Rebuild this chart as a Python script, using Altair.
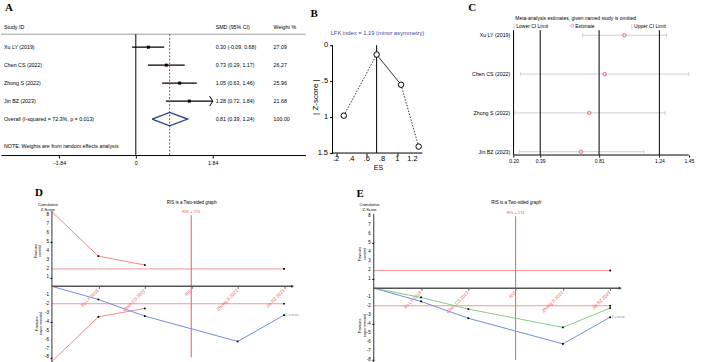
import altair as alt
import pandas as pd

# ---------------- Panel A: forest plot ----------------
studies = ["Xu LY (2019)", "Chen CS (2022)", "Zhong S (2022)", "Jin BZ (2023)"]
smd = [0.30, 0.73, 1.05, 1.28]
smd_lo = [-0.09, 0.29, 0.63, 0.72]
smd_hi = [0.68, 1.17, 1.46, 1.84]
weights = [27.09, 26.27, 25.96, 21.68]
overall = [0.81, 0.39, 1.24]
overall_label = "Overall  (I-squared = 72.3%, p = 0.013)"
overall_weight = 100.00
note_label = "NOTE: Weights are from random effects analysis"
a_ticks = [-1.84, 0, 1.84]

# ---------------- Panel B: Doi plot ----------------
doi_es = [0.30, 0.73, 1.05, 1.28]
doi_z = [0.98, 0.13, 0.55, 1.41]
lfk_label = "LFK index = 1.19 (minor asymmetry)"
b_xticks = [0.2, 0.4, 0.6, 0.8, 1.0, 1.2]
b_xtick_labels = [".2", ".4", ".6", ".8", "1", "1.2"]
b_yticks = [0, 0.5, 1.0, 1.5]
b_ytick_labels = ["0", ".5", "1", "1.5"]

# ---------------- Panel C: leave-one-out ----------------
loo_est = [0.99, 0.85, 0.74, 0.68]
loo_lo = [0.69, 0.25, 0.21, 0.24]
loo_hi = [1.29, 1.45, 1.28, 1.13]
c_ticks = [0.20, 0.39, 0.81, 1.24, 1.45]

# ---------------- Panels D/E: trial sequential analysis ----------------
tsa_ticks = [1, 2, 3, 4, 5]
tsa_tick_labels = ["Xu LY 2019", "Chen CS 2022", "RIS", "Zhong S 2022", "Jin BZ 2023"]
curve_pos = [0, 1, 2, 4, 5]
z_curve = [0, -1.48, -3.35, -6.20, -3.24]
adj_curve = [0, -1.04, -2.33, -4.37, -2.22]
bound_pos = [0, 1, 2]
upper_bound = [8.4, 3.4, 2.4]
lower_bound = [-8.45, -3.43, -2.49]
ris_pos = 3
ris_label = "RIS = 274"
conv_z = 1.96
tsa_yticks = [-8, -7, -6, -5, -4, -3, -2, -1, 1, 2, 3, 4, 5, 6, 7, 8]

FONT = "Liberation Sans"
SERIF = "Liberation Serif"
one = pd.DataFrame({"k": [0]})


def label(text, x, y, size=5.3, align="left", color="black", angle=0,
          bold=False, font=FONT, baseline="middle", lh=None):
    kw = dict(text=text, align=align, baseline=baseline, fontSize=size,
              color=color, font=font, lineBreak="\n")
    if angle:
        kw["angle"] = angle
    if bold:
        kw["fontWeight"] = "bold"
    if lh:
        kw["lineHeight"] = lh
    return alt.Chart(one).mark_text(**kw).encode(x=alt.value(x), y=alt.value(y))


def hrule(x0, x1, y, color="black", w=1.0, dash=None):
    kw = dict(color=color, strokeWidth=w)
    if dash:
        kw["strokeDash"] = dash
    return alt.Chart(one).mark_rule(**kw).encode(
        x=alt.value(x0), x2=alt.value(x1), y=alt.value(y))


def vrule(x, y0, y1, color="black", w=1.0):
    return alt.Chart(one).mark_rule(color=color, strokeWidth=w).encode(
        x=alt.value(x), y=alt.value(y0), y2=alt.value(y1))


def Q(field, scale, shown=False):
    # shown=True: the channel has a visible axis defined in another layer -> leave it implicit
    if shown:
        return alt.X(field, type="quantitative", scale=scale)
    return alt.X(field, type="quantitative", scale=scale, axis=None)


def QY(field, scale, shown=False):
    if shown:
        return alt.Y(field, type="quantitative", scale=scale)
    return alt.Y(field, type="quantitative", scale=scale, axis=None)


AX = dict(title=None, grid=False, labelOverlap=False, labelFlush=False, labelColor="black",
          tickColor="black")

HT = 170   # top row height
HB = 192   # bottom row height

# ======================= Panel A =======================
WA = 305
xA = alt.Scale(domain=[-3.226, 4.062], nice=False, zero=False)
yA = alt.Scale(domain=[-1.611, 7.833], reverse=True, nice=False, zero=False)

dfA = pd.DataFrame({"study": studies, "smd": smd, "lo": smd_lo, "hi": smd_hi,
                    "w": weights, "row": [1, 2, 3, 4]})
txtA = pd.DataFrame({
    "label": studies + [overall_label],
    "ci": [f"{m:.2f} ({l:.2f}, {h:.2f})" for m, l, h in zip(smd, smd_lo, smd_hi)]
          + [f"{overall[0]:.2f} ({overall[1]:.2f}, {overall[2]:.2f})"],
    "wt": [f"{w:.2f}" for w in weights] + [f"{overall_weight:.2f}"],
    "row": [1, 2, 3, 4, 5],
})
arrowA = dfA[dfA["hi"] >= max(a_ticks)]
diam = pd.DataFrame({
    "x": [overall[1], overall[0], overall[2], overall[0], overall[1]],
    "row": [5, 4.63, 5, 5.37, 5],
    "o": [0, 1, 2, 3, 4],
})

ci_rules = alt.Chart(dfA).mark_rule(color="black", strokeWidth=1.2).encode(
    x=alt.X("lo:Q", scale=xA, axis=alt.Axis(
        values=a_ticks, offset=-15, domainColor="black", domainWidth=1,
        tickSize=3, labelFontSize=5.3, labelPadding=2,
        labelExpr="datum.value == 0 ? '0' : format(datum.value, '.2f')", **AX)),
    x2="hi:Q",
    y=QY("row", yA),
)
squares = alt.Chart(dfA).mark_square(size=9, color="black", opacity=1).encode(
    x=Q("smd", xA, True), y=QY("row", yA))
arrows = alt.Chart(arrowA).mark_point(
    shape="M -0.6 -1 L 0 0 L -0.6 1", filled=False, size=100,
    color="black", strokeWidth=1, opacity=1).encode(x=Q("hi", xA, True), y=QY("row", yA))
zero_line = alt.Chart(pd.DataFrame({"x": [0]})).mark_rule(color="black", strokeWidth=1).encode(
    x=Q("x", xA, True), y=alt.value(34), y2=alt.value(155))
ov_line = alt.Chart(pd.DataFrame({"x": [overall[0]]})).mark_rule(
    color="#c83c3c", strokeWidth=1, strokeDash=[2, 1.5]).encode(
    x=Q("x", xA, True), y=alt.value(34), y2=alt.value(155))
diamond = alt.Chart(diam).mark_line(color="#2a3d8f", strokeWidth=1.3).encode(
    x=Q("x", xA, True), y=QY("row", yA), order="o:Q")
study_txt = alt.Chart(txtA).mark_text(align="left", baseline="middle", fontSize=5.3, font=FONT).encode(
    x=alt.value(3), y=QY("row", yA), text="label:N")
ci_txt = alt.Chart(txtA).mark_text(align="left", baseline="middle", fontSize=5.3, font=FONT).encode(
    x=alt.value(215), y=QY("row", yA), text="ci:N")
wt_txt = alt.Chart(txtA).mark_text(align="left", baseline="middle", fontSize=5.3, font=FONT).encode(
    x=alt.value(273), y=QY("row", yA), text="wt:N")

panelA = alt.layer(
    hrule(0, WA, 34, color="#9a9a9a", w=1),
    ci_rules, zero_line, ov_line, squares, arrows, diamond,
    study_txt, ci_txt, wt_txt,
    label("Study ID", 3, 27), label("SMD (95% CI)", 215, 27), label("Weight %", 273, 27),
    label(note_label, 3, 146),
    label("A", 4, 8, size=11, bold=True, font=SERIF),
).properties(width=WA, height=HT)

# ======================= Panel B =======================
WB = 155
xB = alt.Scale(domain=[-0.2, 1.826], nice=False, zero=False)
yB = alt.Scale(domain=[-0.625, 1.736], reverse=True, nice=False, zero=False)
dfB = pd.DataFrame({"es": doi_es, "z": doi_z})
dotted = pd.DataFrame({"es": doi_es, "z": doi_z, "seg": ["a", "a", "b", "b"]})
solid = dfB.iloc[1:3]
zmin_es = doi_es[doi_z.index(min(doi_z))]
vline = pd.DataFrame({"es": [zmin_es], "z0": [b_yticks[0]], "z1": [b_yticks[-1]]})
bxt = pd.DataFrame({"v": b_xticks, "t": b_xtick_labels})
byt = pd.DataFrame({"v": b_yticks, "t": b_ytick_labels})

ptsB = alt.Chart(dfB).mark_point(shape="circle", filled=True, fill="white", stroke="black",
                                 strokeWidth=1, size=30, opacity=1).encode(
    x=alt.X("es:Q", scale=xB, axis=alt.Axis(
        values=b_xticks, offset=-17, domain=False, tickSize=3, labels=False, **AX)),
    y=alt.Y("z:Q", scale=yB, axis=alt.Axis(
        values=b_yticks, offset=-27, domain=False, tickSize=3, labels=False, **AX)),
)
dotB = alt.Chart(dotted).mark_line(color="black", strokeWidth=0.8, strokeDash=[1.5, 1.5]).encode(
    x=Q("es", xB, True), y=QY("z", yB, True), detail="seg:N")
solB = alt.Chart(solid).mark_line(color="black", strokeWidth=0.8).encode(
    x=Q("es", xB, True), y=QY("z", yB, True))
vB = alt.Chart(vline).mark_rule(color="black", strokeWidth=1).encode(
    x=Q("es", xB, True), y=QY("z0", yB, True), y2="z1:Q")
bxl = alt.Chart(bxt).mark_text(fontSize=7.5, font=FONT, baseline="middle", align="center").encode(
    x=Q("v", xB, True), y=alt.value(159), text="t:N")
byl = alt.Chart(byt).mark_text(fontSize=7.5, font=FONT, baseline="middle", align="right").encode(
    x=alt.value(22.5), y=QY("v", yB, True), text="t:N")

panelB = alt.layer(
    vrule(27, 45, 153), hrule(27, 117, 153),
    vB, dotB, solB, ptsB, bxl, byl,
    label(lfk_label, 72, 33, size=5.8, align="center", color="#3b4a9e"),
    label("| Z-score |", 10, 97, size=8, align="center", angle=270),
    label("ES", 73, 167.5, size=7, align="center"),
    label("B", 5, 14, size=11, bold=True, font=SERIF),
).properties(width=WB, height=HT)

# ======================= Panel C =======================
WC = 248
xC = alt.Scale(domain=[-0.1796, 1.5867], nice=False, zero=False)
yC = alt.Scale(domain=[-0.9, 3.47], reverse=True, nice=False, zero=False)
dfC = pd.DataFrame({"study": studies, "est": loo_est, "lo": loo_lo, "hi": loo_hi,
                    "row": [0, 1, 2, 3]})
endsC = pd.DataFrame({"x": loo_lo + loo_hi, "row": [0, 1, 2, 3] * 2})
refC = pd.DataFrame({"x": [overall[1], overall[0], overall[2]]})
axC = pd.DataFrame({"x0": [c_ticks[0]], "x1": [c_ticks[-1]]})

ciC = alt.Chart(dfC).mark_rule(color="#c4c4c4", strokeWidth=0.8).encode(
    x=alt.X("lo:Q", scale=xC, axis=alt.Axis(
        values=c_ticks, format=".2f", offset=-15, domain=False,
        tickSize=2, labelFontSize=5, labelPadding=1, **AX)),
    x2="hi:Q", y=QY("row", yC))
endC = alt.Chart(endsC).mark_tick(orient="vertical", size=4, thickness=0.8, color="#b8b8b8").encode(
    x=Q("x", xC, True), y=QY("row", yC))
refRules = alt.Chart(refC).mark_rule(color="black", strokeWidth=1).encode(
    x=Q("x", xC, True), y=alt.value(30), y2=alt.value(155))
yAxC = alt.Chart(axC).mark_rule(color="black", strokeWidth=1).encode(
    x=Q("x0", xC, True), y=alt.value(30), y2=alt.value(155))
xAxC = alt.Chart(axC).mark_rule(color="black", strokeWidth=1).encode(
    x=Q("x0", xC, True), x2="x1:Q", y=alt.value(155))
estC = alt.Chart(dfC).mark_point(shape="circle", filled=False, color="#e8505b",
                                 size=12, strokeWidth=0.8, opacity=1).encode(
    x=Q("est", xC, True), y=QY("row", yC))
labC = alt.Chart(dfC).mark_text(align="right", baseline="middle", fontSize=5.3, font=FONT).encode(
    x=alt.value(50), y=QY("row", yC), text="study:N")
legSym = alt.Chart(one).mark_point(shape="circle", filled=False, color="#e8505b",
                                   size=8, strokeWidth=0.8).encode(x=alt.value(112), y=alt.value(25.5))

panelC = alt.layer(
    ciC, refRules, yAxC, xAxC, endC, estC, labC,
    label("Meta-analysis estimates, given named study is omitted", 55, 18, size=5),
    label("|", 53, 25.5, size=5, color="#999"), label("Lower CI Limit", 56, 25.5, size=5),
    legSym, label("Estimate", 115, 25.5, size=5),
    label("|", 171, 25.5, size=5, color="#999"), label("Upper CI Limit", 174, 25.5, size=5),
    label("C", 8, 8, size=11, bold=True, font=SERIF),
).properties(width=WC, height=HT)


# ======================= Panels D / E =======================
RED = "#f07c7c"
RIS_RED = "#f25a5a"
BLUE = "#6f90d8"
GREEN = "#86cc86"


def tsa_panel(W, xdom, ydom, ax_px, zero_px, arrow_px, axis_top_px, letter, letter_xy,
              title_xy, cum_xy, favc_xy, fave_xy, show_bounds, show_adj):
    xS = alt.Scale(domain=xdom, nice=False, zero=False)
    yS = alt.Scale(domain=ydom, nice=False, zero=False)
    conv = pd.DataFrame({"y": [conv_z, -conv_z], "x0": [0, 0],
                         "x1": [tsa_ticks[-1], tsa_ticks[-1]]})
    convL = alt.Chart(conv).mark_rule(color=RED, strokeWidth=0.8).encode(
        x=alt.X("x0:Q", scale=xS, axis=alt.Axis(
            values=tsa_ticks, offset=-(HB - zero_px), domain=False, tickSize=2,
            labels=False, **{**AX, "tickColor": "#555"})),
        x2="x1:Q",
        y=alt.Y("y:Q", scale=yS, axis=alt.Axis(
            values=tsa_yticks, offset=-ax_px, domain=False, tickSize=2, labels=False, **AX)),
    )
    xl = pd.DataFrame({"v": tsa_ticks, "t": tsa_tick_labels})
    yl = pd.DataFrame({"v": tsa_yticks, "t": [str(v) for v in tsa_yticks]})
    xLab = alt.Chart(xl).mark_text(fontSize=4.5, font=FONT, color="#f05050", angle=315,
                                   align="right", baseline="middle").encode(
        x=Q("v", xS, True), y=alt.value(zero_px + 4), text="t:N")
    yLab = alt.Chart(yl).mark_text(fontSize=4.5, font=FONT, color="black",
                                   align="right", baseline="middle").encode(
        x=alt.value(ax_px - 3), y=QY("v", yS, True), text="t:N")
    convM = alt.Chart(conv).mark_square(size=3, color="black", opacity=1).encode(
        x=Q("x1", xS, True), y=QY("y", yS, True))
    risdf = pd.DataFrame({"x": [ris_pos], "y0": [max(tsa_yticks)], "y1": [min(tsa_yticks)],
                          "lab": [ris_label]})
    risL = alt.Chart(risdf).mark_rule(color=RIS_RED, strokeWidth=1).encode(
        x=Q("x", xS, True), y=QY("y0", yS, True), y2="y1:Q")
    risT = alt.Chart(risdf).mark_text(color=RIS_RED, fontSize=4, font=FONT, baseline="bottom",
                                      dy=-1).encode(x=Q("x", xS, True), y=QY("y0", yS, True),
                                                    text="lab:N")
    layers = [convL, convM, risL, risT, xLab, yLab]
    if show_bounds:
        bd = pd.DataFrame({"x": bound_pos * 2, "y": upper_bound + lower_bound,
                           "side": ["u"] * 3 + ["l"] * 3})
        layers.append(alt.Chart(bd).mark_line(color=RED, strokeWidth=0.9).encode(
            x=Q("x", xS, True), y=QY("y", yS, True), detail="side:N"))
        layers.append(alt.Chart(bd[bd["x"] > 0]).mark_square(size=3, color="black", opacity=1).encode(
            x=Q("x", xS, True), y=QY("y", yS, True)))
    zc = pd.DataFrame({"x": curve_pos, "z": z_curve})
    layers.append(alt.Chart(zc).mark_line(color=BLUE, strokeWidth=1).encode(
        x=Q("x", xS, True), y=QY("z", yS, True)))
    layers.append(alt.Chart(zc[zc["x"] > 0]).mark_square(size=3, color="black", opacity=1).encode(
        x=Q("x", xS, True), y=QY("z", yS, True)))
    layers.append(alt.Chart(zc.tail(1).assign(t="Z-curve")).mark_text(
        color=BLUE, fontSize=4, font=FONT, align="left", dx=1).encode(
        x=Q("x", xS, True), y=QY("z", yS, True), text="t:N"))
    if show_adj:
        ac = pd.DataFrame({"x": curve_pos, "z": adj_curve})
        layers.append(alt.Chart(ac).mark_line(color=GREEN, strokeWidth=1).encode(
            x=Q("x", xS, True), y=QY("z", yS, True)))
        layers.append(alt.Chart(ac[ac["x"] > 0]).mark_square(size=3, color="black", opacity=1).encode(
            x=Q("x", xS, True), y=QY("z", yS, True)))
    # axis lines
    layers.append(vrule(ax_px, axis_top_px, HB, color="black", w=0.8))
    layers.append(hrule(ax_px, arrow_px, zero_px, color="#555", w=1.5))
    layers.append(alt.Chart(one).mark_point(shape="triangle-right", filled=True, size=10,
                                            color="#333", opacity=1).encode(
        x=alt.value(arrow_px), y=alt.value(zero_px)))
    layers += [
        label("RIS is a Two-sided graph", title_xy[0], title_xy[1], size=4.5, align="center"),
        label("Cumulative\nZ-Score", cum_xy[0], cum_xy[1], size=4, align="center",
              baseline="top", lh=4.5),
        label("Favours\ncontrol", favc_xy[0], favc_xy[1], size=4, align="center",
              angle=270, lh=4.5),
        label("Favours\nexperimental", fave_xy[0], fave_xy[1], size=4, align="center",
              angle=270, lh=4.5),
        label(letter, letter_xy[0], letter_xy[1], size=11, bold=True, font=SERIF),
    ]
    return alt.layer(*layers).properties(width=W, height=HB)


panelD = tsa_panel(354, [-1.097, 6.516], [-8.6, 12.98], 51, 115.5, 292, 40,
                   "D", (34, 22), (191, 32), (47, 32.5), (35, 80), (36, 153), True, False)
panelE = tsa_panel(354, [-0.408, 7.07], [-8.3, 13.03], 19.3, 117.3, 266, 43,
                   "E", (2, 23), (162, 32.5), (15, 32.5), (6, 83), (6, 155), False, True)

top = alt.hconcat(panelA, panelB, panelC, spacing=0, bounds="flush")
bottom = alt.hconcat(panelD, panelE, spacing=0, bounds="flush")
chart = alt.vconcat(top, bottom, spacing=0, padding=0).configure_view(
    stroke=None).configure_axis(labelFont=FONT, grid=False)

chart.save("out.html", embed_options={"renderer": "svg", "actions": False})
